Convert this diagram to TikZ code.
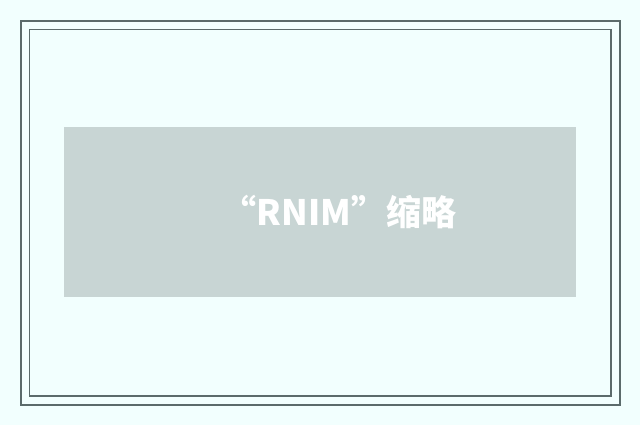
\documentclass[tikz,border=0pt]{standalone}
\usepackage{fontspec}
\newfontfamily\cjk{Noto Sans CJK SC}
\usepackage{tikz}
\definecolor{pagebg}{HTML}{F2FFFE}
\definecolor{framegray}{HTML}{5B6B6B}
\definecolor{bannergray}{HTML}{C8D5D4}

\begin{document}
\begin{tikzpicture}
				[x=1pt,y=-1pt,
				outer frame/.style={draw=framegray,line width=2pt},
				inner frame/.style={draw=framegray,line width=1.2pt},
				banner/.style={fill=bannergray,inner sep=0pt,minimum width=512pt,minimum height=170pt},
				caption/.style={text=white,font=\cjk\bfseries\fontsize{35}{40}\selectfont,inner sep=0pt}]

				\fill[pagebg] (0,0) rectangle (640,425);
				\useasboundingbox (0,0) rectangle (640,425);

				\draw[outer frame] (21,21) rectangle (620,405);
				\draw[inner frame] (29.5,29.5) rectangle (611,396);

				\node[banner] (B) at (320,212) {};
				\node[caption] (T) at (339,212) {“RNIM”缩略};
			\end{tikzpicture}
\end{document}
